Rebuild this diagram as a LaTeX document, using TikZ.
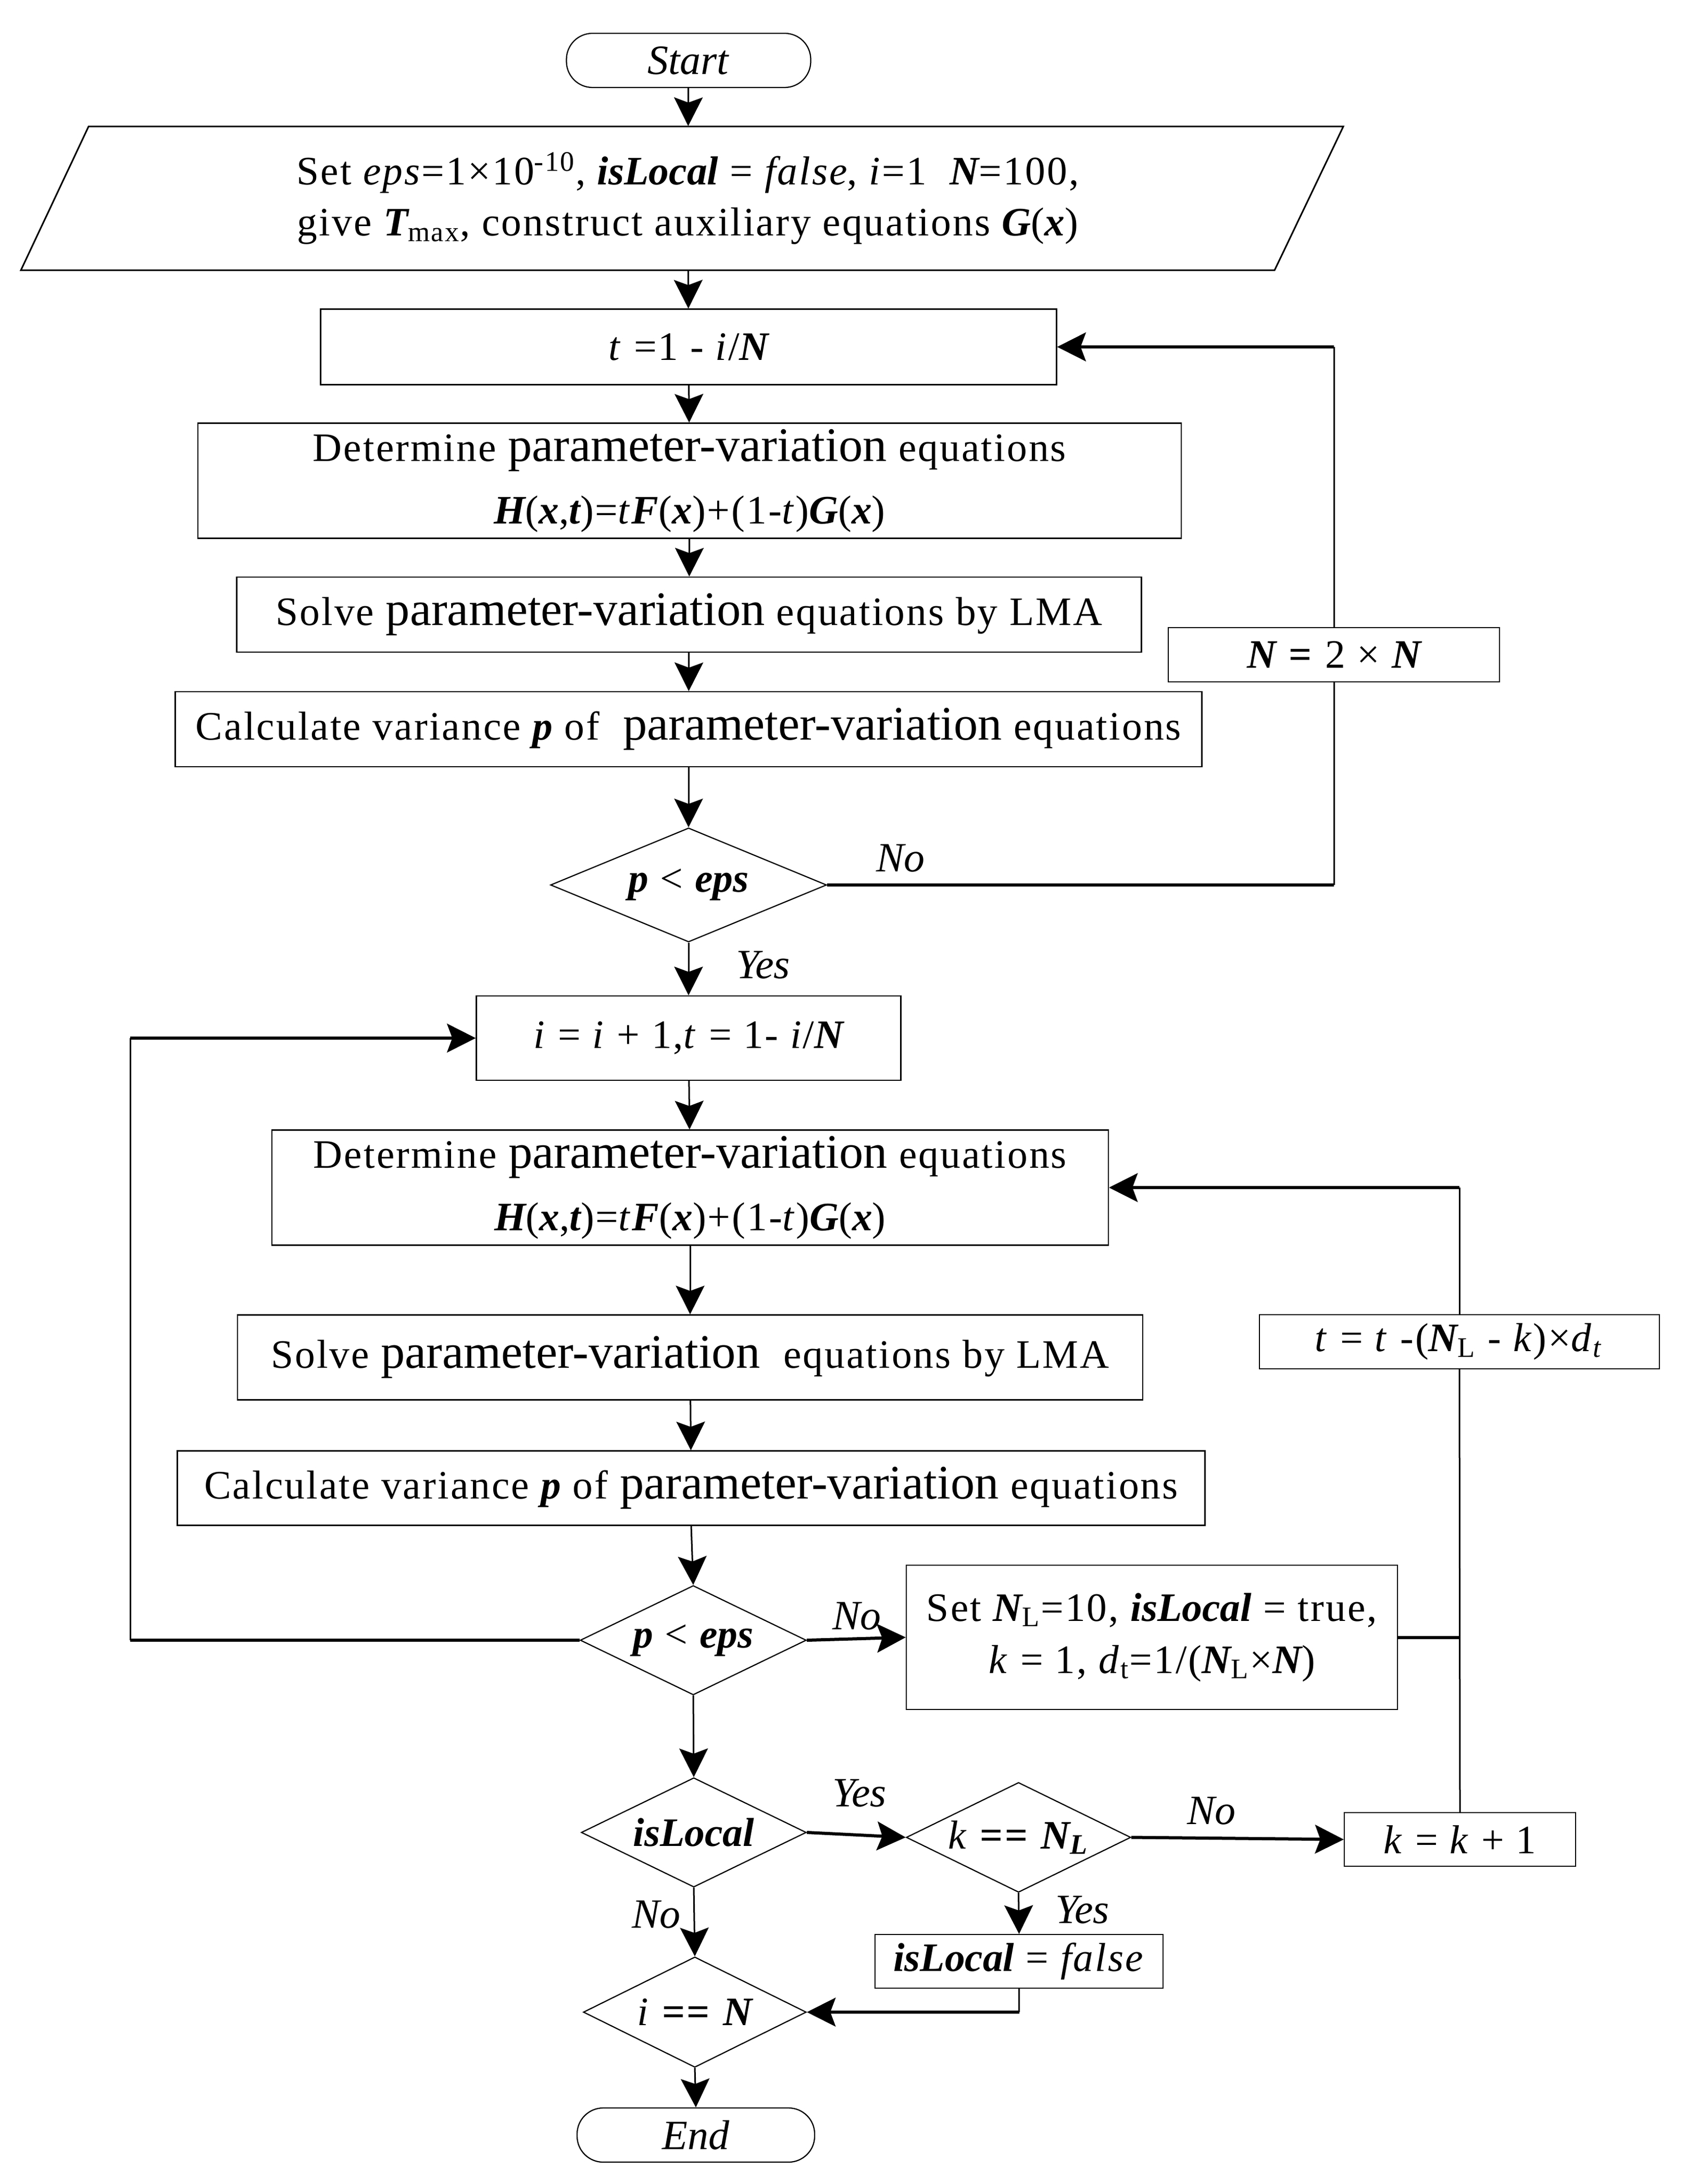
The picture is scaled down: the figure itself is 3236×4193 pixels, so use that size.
\documentclass[tikz,border=0pt]{standalone}
\usepackage{fontspec}
\setmainfont{Liberation Serif}[LetterSpace=4]
\newfontfamily\pvfont{Liberation Serif}
\newfontfamily\plainfont{Liberation Serif}
\usetikzlibrary{shapes.geometric,arrows.meta}
\newcommand{\bim}[1]{{\plainfont\bfseries\itshape #1}}
\newcommand{\pv}[1]{{\pvfont\fontsize{18.5}{21}\selectfont #1}}
\begin{document}
\begin{tikzpicture}[x=0.2pt,y=-0.2pt,
  font=\fontsize{15.5}{20}\selectfont,
  box/.style={draw, line width=0.45pt, inner sep=0pt, align=center, fill=white},
  term/.style={box, rounded corners=10pt},
  dec/.style={draw, line width=0.45pt, diamond, aspect=2, inner sep=0pt, align=center, fill=white},
  tip/.style={-{Stealth[length=11pt,width=11pt,inset=2pt]}},
  flow/.style={line width=0.6pt, tip},
  heavy/.style={line width=1.2pt},
  heavyarr/.style={line width=1.2pt, tip},
  thinline/.style={line width=0.6pt},
  lbl/.style={font=\fontsize{16}{20}\selectfont\plainfont\itshape, inner sep=0pt}
]
\useasboundingbox (0,0) rectangle (3236,4193);

% ---- nodes ----
\node[term, minimum width=93.8pt, minimum height=20.8pt, font=\fontsize{16}{20}\selectfont\plainfont] (start) at (1322,116) {\textit{Start}};

\node[inner sep=0pt, minimum width=476.8pt, minimum height=55.2pt, align=center,
      font=\fontsize{15.5}{19.6}\selectfont] (init) at (1320.5,381)
  {Set \textit{eps}=1×10\textsuperscript{-10}, \bim{isLocal} = \textit{false}, \textit{i}=1\ \ \bim{N}=100,\\
   give \bim{T}\textsubscript{max}, construct auxiliary equations \bim{G}(\bim{x})};
\draw[line width=0.6pt] (170,243) -- (2579,243) -- (2447,519) -- (40,519) -- cycle;

\node[box, minimum width=282.6pt, minimum height=29pt] (t1) at (1322,666)
  {\textit{t} =1 - \textit{i}/\bim{N}};

\node[box, minimum width=377.6pt, minimum height=44.2pt, font=\fontsize{15.5}{24}\selectfont] (det1) at (1324,923)
  {Determine \pv{parameter-variation} equations\\
   \bim{H}(\bim{x},\bim{t})=\textit{t}\bim{F}(\bim{x})+(1-\textit{t})\bim{G}(\bim{x})};

\node[box, minimum width=347.4pt, minimum height=28.8pt] (solve1) at (1323,1180)
  {Solve \pv{parameter-variation} equations by LMA};

\node[box, minimum width=394.2pt, minimum height=28.8pt] (calc1) at (1322,1400)
  {Calculate variance \bim{p} of\ \ \pv{parameter-variation} equations};

\node[dec, minimum width=106pt, minimum height=43.8pt] (dia1) at (1322,1699)
  {\bim{p} < \bim{eps}};

\node[box, minimum width=127.2pt, minimum height=20.8pt] (N2) at (2561,1257)
  {\bim{N} \textbf{=} 2 × \bim{N}};

\node[box, minimum width=163pt, minimum height=32.4pt] (inc) at (1322,1993)
  {\textit{i} = \textit{i} + 1,\textit{t} = 1- \textit{i}/\bim{N}};

\node[box, minimum width=321.2pt, minimum height=44.2pt, font=\fontsize{15.5}{24}\selectfont] (det2) at (1325,2280)
  {Determine \pv{parameter-variation} equations\\
   \bim{H}(\bim{x},\bim{t})=\textit{t}\bim{F}(\bim{x})+(1-\textit{t})\bim{G}(\bim{x})};

\node[box, minimum width=347.6pt, minimum height=32.6pt] (solve2) at (1325,2606)
  {Solve \pv{parameter-variation}\ \ equations by LMA};

\node[box, minimum width=153.6pt, minimum height=20.8pt] (tupd) at (2802,2576)
  {\textit{t} = \textit{t} -(\bim{N}\textsubscript{L} - \textit{k})×\textit{d}\textsubscript{\textit{t}}};

\node[box, minimum width=394.6pt, minimum height=28.6pt] (calc2) at (1327,2857)
  {Calculate variance \bim{p} of \pv{parameter-variation} equations};

\node[dec, minimum width=86.8pt, minimum height=42pt] (dia2) at (1331,3149)
  {\bim{p} < \bim{eps}};

\node[box, minimum width=188.6pt, minimum height=55.4pt] (setNL) at (2211.5,3143.5)
  {Set \bim{N}\textsubscript{L}=10, \bim{isLocal} = true,\\
   \textit{k} = 1, \textit{d}\textsubscript{t}=1/(\bim{N}\textsubscript{L}×\bim{N})};

\node[dec, minimum width=86.4pt, minimum height=42pt] (isLoc) at (1332,3518)
  {\bim{isLocal}};

\node[dec, minimum width=86.2pt, minimum height=42.2pt] (kNL) at (1955.5,3527.5)
  {\textit{k} \textbf{==} \bim{N}\textsubscript{\bim{L}}};

\node[box, minimum width=88.8pt, minimum height=20.6pt] (kinc) at (2803,3531.5)
  {\textit{k} = \textit{k} + 1};

\node[box, minimum width=110.6pt, minimum height=20.6pt] (isLF) at (1956.5,3765.5)
  {\bim{isLocal} = \textit{false}};

\node[dec, minimum width=85.6pt, minimum height=42.4pt] (iN) at (1334,3863)
  {\textit{i} \textbf{==} \bim{N}};

\node[term, minimum width=91.2pt, minimum height=20.8pt, font=\fontsize{16}{20}\selectfont\plainfont] (end) at (1336,4099) {\textit{End}};

% ---- labels ----
\node[lbl] (no1) at (1729,1648) {No};
\node[lbl] (yes1) at (1465,1853) {Yes};
\node[lbl] (no2) at (1645,3103) {No};
\node[lbl] (yes2) at (1650,3443) {Yes};
\node[lbl] (no3) at (2326,3477) {No};
\node[lbl] (yes3) at (2078,3667) {Yes};
\node[lbl] (no4) at (1260,3676) {No};

% ---- connectors ----
\draw[flow] (start) -- (init);
\draw[flow] (init) -- (t1);
\draw[flow] (t1) -- (det1);
\draw[flow] (det1) -- (solve1);
\draw[flow] (solve1) -- (calc1);
\draw[flow] (calc1) -- (dia1);

\coordinate (r1) at (dia1.east -| N2.south);
\coordinate (r2) at (t1.east -| N2.north);
\draw[heavy] (dia1.east) -- (r1);
\draw[thinline] (r1) -- (N2.south);
\draw[thinline] (N2.north) -- (r2);
\draw[heavyarr] (r2) -- (t1.east);

\draw[flow] (dia1) -- (inc);
\draw[flow] (inc) -- (det2);
\draw[flow] (det2) -- (solve2);
\draw[flow] (solve2) -- (calc2);
\draw[flow] (calc2.south) -- (dia2.north);

\coordinate (l1) at (250,3149);
\coordinate (l2) at (l1 |- inc.west);
\draw[heavy] (dia2.west) -- (l1);
\draw[thinline] (l1) -- (l2);
\draw[heavyarr] (l2) -- (inc.west);

\draw[heavyarr] (dia2.east) -- (setNL.west);
\coordinate (v1) at (setNL.east -| kinc.north);
\draw[heavy] (setNL.east) -- (v1);
\draw[thinline] (kinc.north) -- (tupd.south);
\coordinate (v2) at (det2.east -| tupd.north);
\draw[thinline] (tupd.north) -- (v2);
\draw[heavyarr] (v2) -- (det2.east);

\draw[flow] (dia2.south) -- (isLoc.north);
\draw[heavyarr] (isLoc.east) -- (kNL.west);
\draw[heavyarr] (kNL.east) -- (kinc.west);
\draw[flow] (kNL.south) -- (isLF.north);
\coordinate (f1) at (isLF.south |- iN.east);
\draw[thinline] (isLF.south) -- (f1);
\draw[heavyarr] (f1) -- (iN.east);
\draw[flow] (isLoc.south) -- (iN.north);
\draw[flow] (iN.south) -- (end.north);
\end{tikzpicture}
\end{document}
